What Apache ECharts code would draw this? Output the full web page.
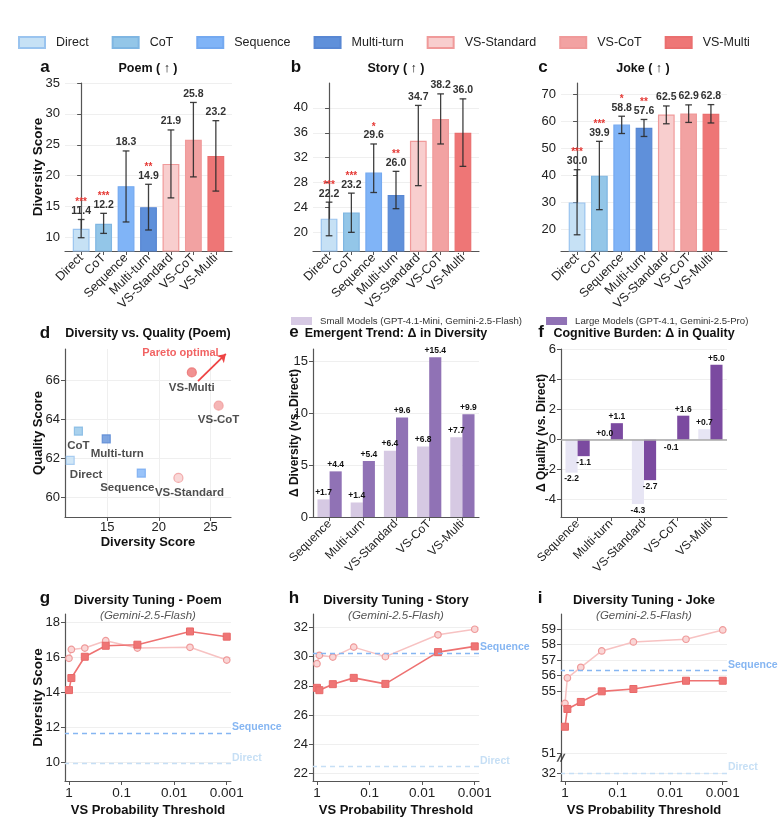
<!DOCTYPE html>
<html lang="en">
<head>
  <meta charset="UTF-8">
  <title>diversity-panels</title>
  <script src="https://cdn.jsdelivr.net/npm/echarts@6.0.0/dist/echarts.min.js"></script>
  <style>
    html, body { margin: 0; padding: 0; background: #fff; }
    #main { width: 782px; height: 820px; }
  </style>
</head>
<body>
<div id="main"></div>
<script>
  // ---- data ----
  var methods = ['Direct', 'CoT', 'Sequence', 'Multi-turn', 'VS-Standard', 'VS-CoT', 'VS-Multi'];

  var poemMean = [11.4, 12.2, 18.3, 14.9, 21.9, 25.8, 23.2];
  var poemLow = [9.95, 10.65, 12.5, 11.2, 16.4, 19.8, 17.5];
  var poemHigh = [12.9, 13.9, 24.0, 18.6, 27.4, 31.85, 28.9];
  var poemStars = ['***', '***', '', '**', '', '', ''];

  var storyMean = [22.2, 23.2, 29.6, 26.0, 34.7, 38.2, 36.0];
  var storyLow = [19.45, 20.0, 26.4, 23.8, 27.5, 34.2, 30.6];
  var storyHigh = [24.85, 26.3, 34.2, 29.8, 40.4, 42.25, 41.45];
  var storyStars = ['***', '***', '*', '**', '', '', ''];

  var jokeMean = [30.0, 39.9, 58.8, 57.6, 62.5, 62.9, 62.8];
  var jokeLow = [18.0, 27.3, 55.5, 54.4, 59.1, 59.6, 59.4];
  var jokeHigh = [42.1, 52.6, 61.9, 60.7, 65.7, 66.1, 66.2];
  var jokeStars = ['***', '***', '*', '**', '', '', ''];

  var poemQuality = [61.9, 63.4, 61.25, 63.0, 61.0, 64.7, 66.4];
  var paretoArrow = [[23.8, 65.95], [26.5, 67.35]];
  var paretoText = [22.1, 67.4];

  var deltaCats = ['Sequence', 'Multi-turn', 'VS-Standard', 'VS-CoT', 'VS-Multi'];
  var smallName = 'Small Models (GPT-4.1-Mini, Gemini-2.5-Flash)';
  var largeName = 'Large Models (GPT-4.1, Gemini-2.5-Pro)';
  var smallDiv = [1.7, 1.4, 6.4, 6.8, 7.7];
  var largeDiv = [4.4, 5.4, 9.6, 15.4, 9.9];
  var smallQual = [-2.2, 0.0, -4.3, -0.1, 0.7];
  var largeQual = [-1.1, 1.1, -2.7, 1.6, 5.0];

  var thresholds = [1.0, 0.9, 0.5, 0.2, 0.05, 0.005, 0.001];
  var thresholdTicks = [1, 0.1, 0.01, 0.001];
  var thresholdLabels = ['1', '0.1', '0.01', '0.001'];
  var poemTuneStd = [15.96, 16.47, 16.55, 16.97, 16.55, 16.59, 15.86];
  var poemTuneMulti = [14.14, 14.83, 16.05, 16.68, 16.74, 17.5, 17.2];
  var storyTuneStd = [29.51, 30.08, 29.96, 30.64, 29.99, 31.48, 31.86];
  var storyTuneMulti = [27.86, 27.7, 28.11, 28.54, 28.13, 30.3, 30.69];
  var jokeTuneStd = [54.23, 55.86, 56.54, 57.59, 58.17, 58.34, 58.94];
  var jokeTuneMulti = [52.73, 53.87, 54.32, 55.0, 55.15, 55.68, 55.68];
  var tuneRefs = [[11.68, 9.93], [30.24, 22.5], [56.35, 32.0]]; // [Sequence, Direct]

  var jokeTicks = [32, 51, 55, 56, 57, 58, 59];

  // ---- styling ----
  var FONT = 'Liberation Sans, Arial, sans-serif';
  var methodColors = ['#c6e1f5', '#93c6e8', '#80b4f7', '#5f90da', '#f8cece', '#f2a2a2', '#ee7676'];
  var methodBorders = ['#9ac4ef', '#7fb6e2', '#74a9f0', '#5887d3', '#f09a9a', '#f09a9a', '#ea6f6f'];
  var axisColor = '#555';

  // joke panel axis is broken between 32 and 51
  var brk = {low: 32, high: 51, squeeze: 1.24};
  function jokeY(v) {
    if (v >= brk.high) return v;
    return brk.high - brk.squeeze + (v - brk.low) * brk.squeeze / (brk.high - brk.low);
  }

  var myChart = echarts.init(document.getElementById('main'));

  var gridBoxes = [
    [65, 83, 167, 168], [313, 83, 166, 168], [561, 83, 166, 168],
    [65, 349, 166, 168], [313, 349, 166, 168], [561, 349, 166, 168],
    [65, 614, 166, 167], [313, 614, 166, 167], [561, 614, 166, 167]
  ];

  function yAxis(grid, min, max, ticks, name, gap, nameSize, fmt) {
    return {
      type: 'value', gridIndex: grid, min: min, max: max,
      name: name || '', nameLocation: 'middle', nameGap: gap || 0, nameMoveOverlap: false,
      nameTextStyle: {fontWeight: 'bold', fontSize: nameSize || 13.5, color: '#111', fontFamily: FONT},
      axisLine: {show: true, lineStyle: {color: axisColor, width: 1.2}},
      axisTick: {show: true, length: 4, lineStyle: {color: axisColor}, customValues: ticks},
      axisLabel: {fontSize: 13, color: '#222', margin: 5, customValues: ticks, formatter: fmt, fontFamily: FONT},
      splitLine: {show: true, lineStyle: {color: '#efefef', width: 1}}
    };
  }

  function methodXAxis(grid) {
    var idx = methods.map(function (m, i) { return i; });
    return {
      type: 'value', gridIndex: grid, min: -0.72, max: 6.72,
      axisLine: {show: true, onZero: false, lineStyle: {color: axisColor, width: 1.2}},
      axisTick: {show: true, length: 4, lineStyle: {color: axisColor}, customValues: idx},
      axisLabel: {rotate: 45, fontSize: 12.5, color: '#222', margin: 5, customValues: idx,
        formatter: function (v) { return methods[Math.round(v)]; }, fontFamily: FONT},
      splitLine: {show: false}
    };
  }

  function catXAxis(grid) {
    return {
      type: 'category', gridIndex: grid, data: deltaCats,
      axisLine: {show: true, onZero: false, lineStyle: {color: axisColor, width: 1.2}},
      axisTick: {show: true, alignWithLabel: true, length: 4, lineStyle: {color: axisColor}},
      axisLabel: {rotate: 45, fontSize: 12, color: '#222', margin: 5, fontFamily: FONT, interval: 0},
      splitLine: {show: false}
    };
  }

  function logXAxis(grid) {
    return {
      type: 'log', gridIndex: grid, logBase: 10, inverse: true, min: 0.00083, max: 1.19,
      name: 'VS Probability Threshold', nameLocation: 'middle', nameGap: 23,
      nameTextStyle: {fontWeight: 'bold', fontSize: 13, color: '#111', fontFamily: FONT},
      axisLine: {show: true, lineStyle: {color: axisColor, width: 1.2}},
      axisTick: {show: true, length: 4, lineStyle: {color: axisColor}, customValues: thresholdTicks},
      axisLabel: {fontSize: 13.5, color: '#222', margin: 5, customValues: thresholdTicks, fontFamily: FONT,
        formatter: function (v) {
          for (var k = 0; k < thresholdTicks.length; k++) {
            if (Math.abs(Math.log10(thresholdTicks[k]) - Math.log10(v)) < 1e-6) return thresholdLabels[k];
          }
          return '';
        }},
      splitLine: {show: false}
    };
  }

  var xAxes = [
    methodXAxis(0), methodXAxis(1), methodXAxis(2),
    {
      type: 'value', gridIndex: 3, min: 10.9, max: 27,
      name: 'Diversity Score', nameLocation: 'middle', nameGap: 19,
      nameTextStyle: {fontWeight: 'bold', fontSize: 13, color: '#111', fontFamily: FONT},
      axisLine: {show: true, onZero: false, lineStyle: {color: axisColor, width: 1.2}},
      axisTick: {show: true, length: 4, lineStyle: {color: axisColor}, customValues: [15, 20, 25]},
      axisLabel: {fontSize: 13, color: '#222', margin: 4, customValues: [15, 20, 25], fontFamily: FONT},
      splitLine: {show: true, lineStyle: {color: '#efefef'}}
    },
    catXAxis(4), catXAxis(5),
    logXAxis(6), logXAxis(7), logXAxis(8)
  ];

  var jokeTickPos = jokeTicks.map(jokeY);
  var yAxes = [
    yAxis(0, 7.8, 35, [10, 15, 20, 25, 30, 35], 'Diversity Score', 20),
    yAxis(1, 17, 44, [20, 24, 28, 32, 36, 40]),
    yAxis(2, 12, 74.2, [20, 30, 40, 50, 60, 70]),
    yAxis(3, 59, 67.6, [60, 62, 64, 66], 'Quality Score', 20, 13),
    yAxis(4, 0, 16.2, [0, 5, 10, 15], 'Δ Diversity (vs. Direct)', 12, 12),
    yAxis(5, -5.16, 6.05, [-4, -2, 0, 2, 4, 6], 'Δ Quality (vs. Direct)', 13, 12),
    yAxis(6, 8.93, 18.5, [10, 12, 14, 16, 18], 'Diversity Score', 20),
    yAxis(7, 21.5, 32.9, [22, 24, 26, 28, 30, 32]),
    yAxis(8, jokeY(32) - 0.51, 59.96, jokeTickPos, '', 0, 13, function (v) {
      for (var k = 0; k < jokeTicks.length; k++) {
        if (Math.abs(jokeTickPos[k] - v) < 1e-6) return String(jokeTicks[k]);
      }
      return '';
    })
  ];

  var series = [];

  // ---- top row: bars with error bars ----
  var topPanels = [
    {mean: poemMean, low: poemLow, high: poemHigh, stars: poemStars},
    {mean: storyMean, low: storyLow, high: storyHigh, stars: storyStars},
    {mean: jokeMean, low: jokeLow, high: jokeHigh, stars: jokeStars}
  ];

  function errorBars(panel) {
    return function (params, api) {
      var i = params.dataIndex;
      var x = api.value(0);
      var top = api.coord([x, api.value(3)]);
      var bot = api.coord([x, api.value(2)]);
      var half = api.size([0.3, 0])[0] / 2;
      var st = {stroke: '#2b2b2b', lineWidth: 1.3, opacity: 0.9};
      var kids = [
        {type: 'line', shape: {x1: top[0], y1: top[1], x2: bot[0], y2: bot[1]}, style: st},
        {type: 'line', shape: {x1: top[0] - half, y1: top[1], x2: top[0] + half, y2: top[1]}, style: st},
        {type: 'line', shape: {x1: bot[0] - half, y1: bot[1], x2: bot[0] + half, y2: bot[1]}, style: st},
        {type: 'text', x: top[0], y: top[1] - 3, style: {
          text: panel.mean[i].toFixed(1), fill: '#333', font: 'bold 10.5px ' + FONT,
          align: 'center', verticalAlign: 'bottom'}}
      ];
      if (panel.stars[i]) {
        kids.push({type: 'text', x: top[0], y: top[1] - 12, style: {
          text: panel.stars[i], fill: '#e53935', font: 'bold 10px ' + FONT,
          align: 'center', verticalAlign: 'bottom'}});
      }
      return {type: 'group', children: kids};
    };
  }

  topPanels.forEach(function (p, gi) {
    methods.forEach(function (m, mi) {
      series.push({
        type: 'bar', name: m, xAxisIndex: gi, yAxisIndex: gi,
        data: [[mi, p.mean[mi]]],
        barWidth: '75%', barGap: '-100%',
        itemStyle: {color: methodColors[mi], borderColor: methodBorders[mi], borderWidth: 1.2}
      });
    });
    series.push({
      type: 'custom', name: 'err' + gi, xAxisIndex: gi, yAxisIndex: gi, z: 5,
      data: methods.map(function (m, mi) { return [mi, p.mean[mi], p.low[mi], p.high[mi]]; }),
      renderItem: errorBars(p)
    });
  });

  // ---- d: diversity vs quality scatter ----
  var scatterLabelShift = [[16, 0], [0, 0], [-14, 0], [11, 0], [11, 0], [0, -1], [0, 0]];
  series.push({
    type: 'scatter', name: 'poemScatter', xAxisIndex: 3, yAxisIndex: 3,
    data: methods.map(function (m, i) {
      var square = i < 4;
      return {
        name: m, value: [poemMean[i], poemQuality[i]],
        symbol: square ? 'rect' : 'circle', symbolSize: square ? 8 : 9,
        itemStyle: {color: methodColors[i], borderColor: methodBorders[i], borderWidth: 1.2},
        label: {offset: scatterLabelShift[i]}
      };
    }),
    label: {show: true, position: 'bottom', distance: 4, formatter: '{b}',
      fontWeight: 'bold', fontSize: 11.5, color: '#222', fontFamily: FONT},
    markLine: {
      silent: true, symbol: ['none', 'arrow'], symbolSize: 8,
      lineStyle: {color: '#ee4444', width: 1.8, type: 'solid'},
      label: {show: false},
      data: [[{coord: paretoArrow[0]}, {coord: paretoArrow[1]}]]
    }
  });
  series.push({
    type: 'scatter', name: 'paretoLabel', xAxisIndex: 3, yAxisIndex: 3,
    symbolSize: 1, itemStyle: {color: 'rgba(0,0,0,0)'}, silent: true,
    data: [{value: paretoText, name: 'Pareto optimal'}],
    label: {show: true, position: 'inside', formatter: '{b}', color: '#ee3b3b',
      fontWeight: 'bold', fontSize: 11, fontFamily: FONT}
  });

  // ---- e, f: delta bars ----
  function signFmt(p) {
    var v = p.value;
    return (v >= 0 ? '+' : '') + v.toFixed(1);
  }
  function deltaItems(arr) {
    return arr.map(function (v) {
      return {value: v, label: {position: v < 0 ? 'bottom' : 'top'}};
    });
  }
  var deltaLabel = {show: true, formatter: signFmt, fontSize: 8.5, fontWeight: 'bold',
    color: '#111', distance: 2, fontFamily: FONT};

  series.push({
    type: 'bar', name: smallName, xAxisIndex: 4, yAxisIndex: 4,
    data: deltaItems(smallDiv), barGap: '0%', barCategoryGap: '27%',
    itemStyle: {color: '#d6c9e3'}, label: deltaLabel
  });
  series.push({
    type: 'bar', name: largeName, xAxisIndex: 4, yAxisIndex: 4,
    data: deltaItems(largeDiv), barGap: '0%', barCategoryGap: '27%',
    itemStyle: {color: '#9072b5'}, label: deltaLabel
  });
  series.push({
    type: 'bar', name: smallName, xAxisIndex: 5, yAxisIndex: 5,
    data: deltaItems(smallQual), barGap: '0%', barCategoryGap: '27%',
    itemStyle: {color: '#e7e5f4'}, label: deltaLabel
  });
  series.push({
    type: 'bar', name: largeName, xAxisIndex: 5, yAxisIndex: 5,
    data: deltaItems(largeQual), barGap: '0%', barCategoryGap: '27%',
    itemStyle: {color: '#7b4aa0'}, label: deltaLabel,
    markLine: {silent: true, symbol: 'none', label: {show: false},
      lineStyle: {color: '#a8a8a8', width: 1.6, type: 'solid'},
      data: [{yAxis: 0}]}
  });

  // ---- g, h, i: tuning curves ----
  var tunePanels = [
    {std: poemTuneStd, multi: poemTuneMulti, map: function (v) { return v; }},
    {std: storyTuneStd, multi: storyTuneMulti, map: function (v) { return v; }},
    {std: jokeTuneStd, multi: jokeTuneMulti, map: jokeY}
  ];
  tunePanels.forEach(function (p, k) {
    var gi = 6 + k;
    var refs = tuneRefs[k];
    series.push({
      type: 'line', name: 'tuneStd' + k, xAxisIndex: gi, yAxisIndex: gi,
      data: thresholds.map(function (t, i) { return [t, p.map(p.std[i])]; }),
      symbol: 'circle', symbolSize: 6.5,
      lineStyle: {color: '#f7c2c2', width: 1.5},
      itemStyle: {color: '#fad6d6', borderColor: '#ef9a9a', borderWidth: 1.2},
      markLine: {
        silent: true, symbol: 'none',
        // axis is inverted, so the right-hand end of the line is its start
        label: {show: true, position: 'start', formatter: '{b}\n', fontWeight: 'bold', fontSize: 10.5,
          lineHeight: 11, distance: 1, fontFamily: FONT},
        data: [
          {name: 'Sequence', yAxis: p.map(refs[0]),
            lineStyle: {color: '#86b6f2', width: 1.3, type: [5, 4]}, label: {color: '#86b6f2'}},
          {name: 'Direct', yAxis: p.map(refs[1]),
            lineStyle: {color: '#c6dff5', width: 1.3, type: [5, 4]}, label: {color: '#c6dff5'}}
        ]
      }
    });
    series.push({
      type: 'line', name: 'tuneMulti' + k, xAxisIndex: gi, yAxisIndex: gi,
      data: thresholds.map(function (t, i) { return [t, p.map(p.multi[i])]; }),
      symbol: 'rect', symbolSize: 7,
      lineStyle: {color: '#ee7272', width: 1.6},
      itemStyle: {color: '#ef7575', borderColor: '#e86868', borderWidth: 1}
    });
  });
  // axis break mark on the joke panel
  series.push({
    type: 'scatter', name: 'breakMark', xAxisIndex: 8, yAxisIndex: 8, silent: true,
    clip: false, z: 10,
    data: [[1.19, jokeY(47)]],
    symbol: 'path://M0,10L5,0L7,0L2,10Z M4,10L9,0L11,0L6,10Z', symbolSize: [9, 8],
    itemStyle: {color: '#222'}
  });

  // ---- text: panel letters and titles ----
  function txt(text, x, y, font, fill) {
    return {type: 'text', x: x, y: y, silent: true,
      style: {text: text, font: font, fill: fill || '#111', align: 'center', verticalAlign: 'middle'}};
  }
  var letterFont = 'bold 17px ' + FONT;
  var titleFont = 'bold 12.5px ' + FONT;
  var tuneFont = 'bold 13px ' + FONT;
  var subFont = 'italic 11.5px ' + FONT;
  var graphics = [
    txt('a', 45, 67, letterFont), txt('Poem ( ↑ )', 148, 69, titleFont),
    txt('b', 296, 67, letterFont), txt('Story ( ↑ )', 396, 69, titleFont),
    txt('c', 543, 67, letterFont), txt('Joke ( ↑ )', 643, 69, titleFont),
    txt('d', 45, 333, letterFont), txt('Diversity vs. Quality (Poem)', 148, 334, titleFont),
    txt('e', 294, 332, letterFont), txt('Emergent Trend: Δ in Diversity', 396, 334, titleFont),
    txt('f', 541, 332, letterFont), txt('Cognitive Burden: Δ in Quality', 644, 334, titleFont),
    txt('g', 45, 598, letterFont), txt('Diversity Tuning - Poem', 148, 600, tuneFont),
    txt('h', 294, 598, letterFont), txt('Diversity Tuning - Story', 396, 600, tuneFont),
    txt('i', 540, 598, letterFont), txt('Diversity Tuning - Joke', 644, 600, tuneFont),
    txt('(Gemini-2.5-Flash)', 148, 616, subFont, '#555'),
    txt('(Gemini-2.5-Flash)', 396, 616, subFont, '#555'),
    txt('(Gemini-2.5-Flash)', 644, 616, subFont, '#555')
  ];

  myChart.setOption({
    backgroundColor: '#fff',
    animation: false,
    textStyle: {fontFamily: FONT},
    grid: gridBoxes.map(function (b) {
      return {left: b[0], top: b[1], width: b[2], height: b[3], containLabel: false, outerBoundsMode: 'none'};
    }),
    legend: [
      {
        data: methods, left: 13, top: 31, itemWidth: 26, itemHeight: 11, itemGap: 23,
        icon: 'rect', selectedMode: false,
        textStyle: {fontSize: 12.5, color: '#222', padding: [0, 0, 0, 6], fontFamily: FONT}
      },
      {
        data: [smallName, largeName], left: 286, top: 311, width: 490, orient: 'horizontal',
        itemWidth: 21, itemHeight: 8, itemGap: 24,
        icon: 'rect', selectedMode: false,
        textStyle: {fontSize: 9.6, color: '#333', padding: [0, 0, 0, 3], fontFamily: FONT}
      }
    ],
    xAxis: xAxes,
    yAxis: yAxes,
    series: series,
    graphic: graphics
  });
</script>
</body>
</html>
